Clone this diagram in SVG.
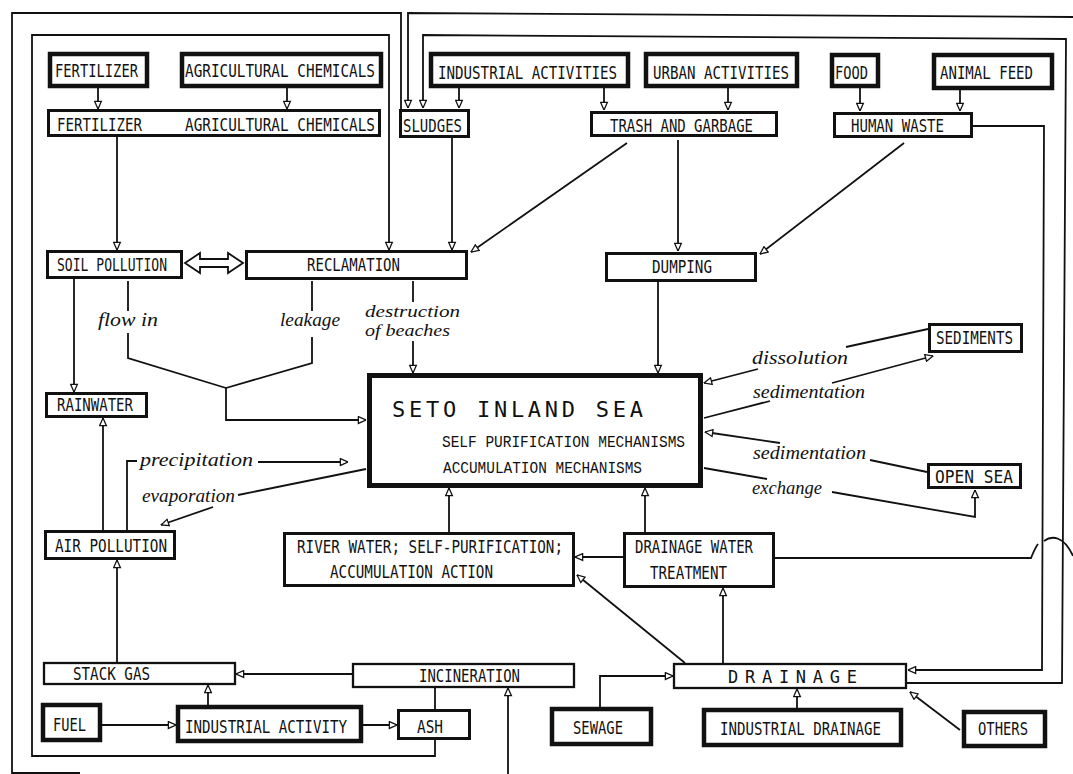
<svg xmlns="http://www.w3.org/2000/svg" width="1073" height="774" viewBox="0 0 1073 774">
<defs>
<marker id="ah" viewBox="0 0 10 10" refX="9.5" refY="5" markerWidth="9" markerHeight="9" markerUnits="userSpaceOnUse" orient="auto">
<path d="M1,1.2 L9.5,5 L1,8.8 Z" fill="#fff" stroke="#111" stroke-width="1.4"/>
</marker>
<style>
.t{fill:#fff;stroke:#111;stroke-width:4.5}
.m{fill:#fff;stroke:#111;stroke-width:3}
.n{fill:#fff;stroke:#111;stroke-width:2.3}
.s{fill:#fff;stroke:#111;stroke-width:5}
.lbl{font-family:"DejaVu Sans Mono","Liberation Mono",monospace;font-size:17px;fill:#111}
.big{font-family:"DejaVu Sans Mono","Liberation Mono",monospace;font-size:22px;fill:#111}
.cour{font-family:"Liberation Mono","Courier New",monospace;font-size:16px;fill:#111}
.it{font-family:"Liberation Serif","DejaVu Serif",serif;font-style:italic;font-size:19px;fill:#111}
.it2{font-family:"Liberation Serif","DejaVu Serif",serif;font-style:italic;font-size:16px;fill:#111}
.c{fill:none;stroke:#111;stroke-width:1.8}
.a{marker-end:url(#ah)}
</style>
</defs>
<rect width="1073" height="774" fill="#fff"/>

<g id="connectors">
<path class="c" d="M12,774 V13 H401 V109"/>
<path class="c" d="M12,773 H80"/>
<path class="c a" d="M435,740 V756 H32 V35 H389 V250"/>
<path class="c a" d="M1073,17 L408,13 V108"/>
<path class="c a" d="M907,683 H1062 L1066,39 L423,35 V108"/>
<path class="c a" d="M98,88 V109"/>
<path class="c a" d="M287,88 V109"/>
<path class="c a" d="M459,88 V108"/>
<path class="c a" d="M604,88 V110"/>
<path class="c a" d="M728,88 V110"/>
<path class="c a" d="M860,88 V111"/>
<path class="c a" d="M960,90 V111"/>
<path class="c a" d="M117,137 V250"/>
<path class="c a" d="M452,138 V250"/>
<path class="c a" d="M627,143 L471,252"/>
<path class="c a" d="M678,140 V251"/>
<path class="c a" d="M904,143 L760,254"/>
<path class="c a" d="M973,126 H1044 L1042,670 H908"/>
<polygon class="c" style="fill:#fff" points="185,263 200,253 200,259 228,259 228,253 243,263 228,273 228,267 200,267 200,273"/>
<path class="c a" d="M74,279 V392"/>
<path class="c" d="M128,281 V311 M128,333 V358 L226,388"/>
<path class="c" d="M312,281 V311 M312,337 V363 L226,388"/>
<path class="c a" d="M226,388 V420 H366"/>
<path class="c" d="M413,281 V302"/>
<path class="c a" d="M413,341 V373"/>
<path class="c a" d="M658,282 V373"/>
<path class="c a" d="M103,530 V418"/>
<path class="c" d="M127,530 V461 H137"/>
<path class="c a" d="M258,462 H348"/>
<path class="c" d="M366,469 L238,495"/>
<path class="c a" d="M213,507 L161,525"/>
<path class="c a" d="M117,662 V560"/>
<path class="c a" d="M352,674 H236"/>
<path class="c a" d="M208,705 V685"/>
<path class="c a" d="M102,725 H176"/>
<path class="c a" d="M363,725 H397"/>
<path class="c" d="M435,709 V688"/>
<path class="c a" d="M508,774 V688"/>
<path class="c a" d="M449,532 V488"/>
<path class="c a" d="M645,532 V488"/>
<path class="c a" d="M623,557 H575"/>
<path class="c a" d="M685,663 L577,575"/>
<path class="c a" d="M723,663 V588"/>
<path class="c a" d="M600,707 V676 H673"/>
<path class="c a" d="M797,708 V689"/>
<path class="c a" d="M960,730 L910,692"/>
<path class="c" d="M775,558 H1031 Q1035,548 1038,544"/>
<path class="c" d="M1044,541 C1052,535 1064,536 1073,556"/>
<path class="c" d="M928,329 L846,347"/>
<path class="c a" d="M758,369 L704,383"/>
<path class="c" d="M704,418 L770,401"/>
<path class="c a" d="M832,383 L933,356"/>
<path class="c" d="M927,472 L870,460"/>
<path class="c a" d="M780,443 L705,432"/>
<path class="c" d="M704,468 L767,479"/>
<path class="c a" d="M832,492 L975,517 V490"/>
<text class="it" x="98" y="326" textLength="60" lengthAdjust="spacingAndGlyphs">flow in</text>
<text class="it" x="280" y="326" textLength="60" lengthAdjust="spacingAndGlyphs">leakage</text>
<text class="it2" x="365" y="317" textLength="95" lengthAdjust="spacingAndGlyphs">destruction</text>
<text class="it2" x="365" y="336" textLength="85" lengthAdjust="spacingAndGlyphs">of beaches</text>
<text class="it" x="140" y="466" textLength="113" lengthAdjust="spacingAndGlyphs">precipitation</text>
<text class="it" x="142" y="502" textLength="93" lengthAdjust="spacingAndGlyphs">evaporation</text>
<text class="it" x="752" y="364" textLength="96" lengthAdjust="spacingAndGlyphs">dissolution</text>
<text class="it" x="753" y="398" textLength="112" lengthAdjust="spacingAndGlyphs">sedimentation</text>
<text class="it" x="753" y="459" textLength="113" lengthAdjust="spacingAndGlyphs">sedimentation</text>
<text class="it" x="752" y="494" textLength="70" lengthAdjust="spacingAndGlyphs">exchange</text>
</g>

<g id="n-fertilizer"><rect class="t" x="50" y="54" width="97" height="32"/><text class="lbl" x="55" y="77" textLength="83" lengthAdjust="spacingAndGlyphs">FERTILIZER</text></g>
<g id="n-agrichem"><rect class="t" x="182" y="54" width="199" height="32"/><text class="lbl" x="185" y="77" textLength="190" lengthAdjust="spacingAndGlyphs">AGRICULTURAL CHEMICALS</text></g>
<g id="n-fert-agri"><rect class="m" x="48.5" y="110.5" width="331" height="25"/><text class="lbl" x="57" y="131" textLength="85" lengthAdjust="spacingAndGlyphs">FERTILIZER</text><text class="lbl" x="185" y="131" textLength="190" lengthAdjust="spacingAndGlyphs">AGRICULTURAL CHEMICALS</text></g>
<g id="n-ind-act"><rect class="t" x="431" y="54" width="197" height="32"/><text class="lbl" x="438" y="79" textLength="179" lengthAdjust="spacingAndGlyphs">INDUSTRIAL ACTIVITIES</text></g>
<g id="n-urban"><rect class="t" x="646" y="54" width="151" height="32"/><text class="lbl" x="653" y="79" textLength="136" lengthAdjust="spacingAndGlyphs">URBAN ACTIVITIES</text></g>
<g id="n-food"><rect class="t" x="832" y="55" width="46" height="31"/><text class="lbl" x="835" y="79" textLength="33" lengthAdjust="spacingAndGlyphs">FOOD</text></g>
<g id="n-animal-feed"><rect class="t" x="934" y="55" width="118" height="33"/><text class="lbl" x="940" y="79" textLength="93" lengthAdjust="spacingAndGlyphs">ANIMAL FEED</text></g>
<g id="n-sludges"><rect class="m" x="400.5" y="110.5" width="68" height="26"/><text class="lbl" x="403" y="132" textLength="59" lengthAdjust="spacingAndGlyphs">SLUDGES</text></g>
<g id="n-trash"><rect class="m" x="591.5" y="112.5" width="185" height="23"/><text class="lbl" x="610" y="132" textLength="143" lengthAdjust="spacingAndGlyphs">TRASH AND GARBAGE</text></g>
<g id="n-human-waste"><rect class="m" x="834.5" y="113.5" width="137" height="23"/><text class="lbl" x="851" y="132" textLength="93" lengthAdjust="spacingAndGlyphs">HUMAN WASTE</text></g>
<g id="n-soil"><rect class="m" x="47.5" y="251.5" width="134" height="26"/><text class="lbl" x="57" y="271" textLength="110" lengthAdjust="spacingAndGlyphs">SOIL POLLUTION</text></g>
<g id="n-reclamation"><rect class="m" x="246.5" y="251.5" width="220" height="27"/><text class="lbl" x="307" y="271" textLength="93" lengthAdjust="spacingAndGlyphs">RECLAMATION</text></g>
<g id="n-dumping"><rect class="m" x="606.5" y="253.5" width="149" height="27"/><text class="lbl" x="652" y="273" textLength="60" lengthAdjust="spacingAndGlyphs">DUMPING</text></g>
<g id="n-rainwater"><rect class="m" x="46.5" y="393.5" width="100" height="23"/><text class="lbl" x="57" y="411" textLength="76" lengthAdjust="spacingAndGlyphs">RAINWATER</text></g>
<g id="n-seto"><rect class="s" x="369.5" y="375.5" width="331" height="110"/>
<text class="big" x="392" y="417" textLength="251" lengthAdjust="spacing">SETO INLAND SEA</text>
<text class="cour" x="442" y="447" textLength="243" lengthAdjust="spacingAndGlyphs">SELF PURIFICATION MECHANISMS</text>
<text class="cour" x="443" y="473" textLength="199" lengthAdjust="spacingAndGlyphs">ACCUMULATION MECHANISMS</text></g>
<g id="n-sediments"><rect class="m" x="929.5" y="324.5" width="92" height="27"/><text class="lbl" x="936" y="344" textLength="77" lengthAdjust="spacingAndGlyphs">SEDIMENTS</text></g>
<g id="n-open-sea"><rect class="m" x="928.5" y="464.5" width="92" height="23"/><text class="lbl" x="935" y="483" textLength="78" lengthAdjust="spacingAndGlyphs">OPEN SEA</text></g>
<g id="n-air"><rect class="m" x="45.5" y="531.5" width="129" height="27"/><text class="lbl" x="55" y="552" textLength="112" lengthAdjust="spacingAndGlyphs">AIR POLLUTION</text></g>
<g id="n-river"><rect class="m" x="284.5" y="533.5" width="289" height="52"/><text class="lbl" x="297" y="553" textLength="266" lengthAdjust="spacingAndGlyphs">RIVER WATER; SELF-PURIFICATION;</text><text class="lbl" x="330" y="578" textLength="163" lengthAdjust="spacingAndGlyphs">ACCUMULATION ACTION</text></g>
<g id="n-dwt"><rect class="m" x="624.5" y="533.5" width="149" height="53"/><text class="lbl" x="635" y="553" textLength="118" lengthAdjust="spacingAndGlyphs">DRAINAGE WATER</text><text class="lbl" x="650" y="579" textLength="77" lengthAdjust="spacingAndGlyphs">TREATMENT</text></g>
<g id="n-stack-gas"><rect class="n" x="44" y="663" width="191" height="21"/><text class="lbl" x="73" y="680" textLength="77" lengthAdjust="spacingAndGlyphs">STACK GAS</text></g>
<g id="n-incineration"><rect class="n" x="353" y="664" width="221" height="23"/><text class="lbl" x="419" y="682" textLength="101" lengthAdjust="spacingAndGlyphs">INCINERATION</text></g>
<g id="n-drainage"><rect class="n" x="674" y="664" width="232" height="24"/><text class="lbl" x="728" y="683" textLength="129" lengthAdjust="spacing">D R A I N A G E</text></g>
<g id="n-fuel"><rect class="t" x="43" y="705" width="57" height="35"/><text class="lbl" x="53" y="731" textLength="33" lengthAdjust="spacingAndGlyphs">FUEL</text></g>
<g id="n-ind-activity"><rect class="t" x="178" y="707" width="183" height="34"/><text class="lbl" x="185" y="733" textLength="162" lengthAdjust="spacingAndGlyphs">INDUSTRIAL ACTIVITY</text></g>
<g id="n-ash"><rect class="m" x="398.5" y="710.5" width="71" height="28"/><text class="lbl" x="417" y="733" textLength="26" lengthAdjust="spacingAndGlyphs">ASH</text></g>
<g id="n-sewage"><rect class="t" x="552" y="709" width="99" height="35"/><text class="lbl" x="573" y="734" textLength="50" lengthAdjust="spacingAndGlyphs">SEWAGE</text></g>
<g id="n-ind-drainage"><rect class="t" x="704" y="710" width="197" height="35"/><text class="lbl" x="720" y="735" textLength="161" lengthAdjust="spacingAndGlyphs">INDUSTRIAL DRAINAGE</text></g>
<g id="n-others"><rect class="t" x="964" y="712" width="81" height="34"/><text class="lbl" x="978" y="735" textLength="50" lengthAdjust="spacingAndGlyphs">OTHERS</text></g>
</svg>
